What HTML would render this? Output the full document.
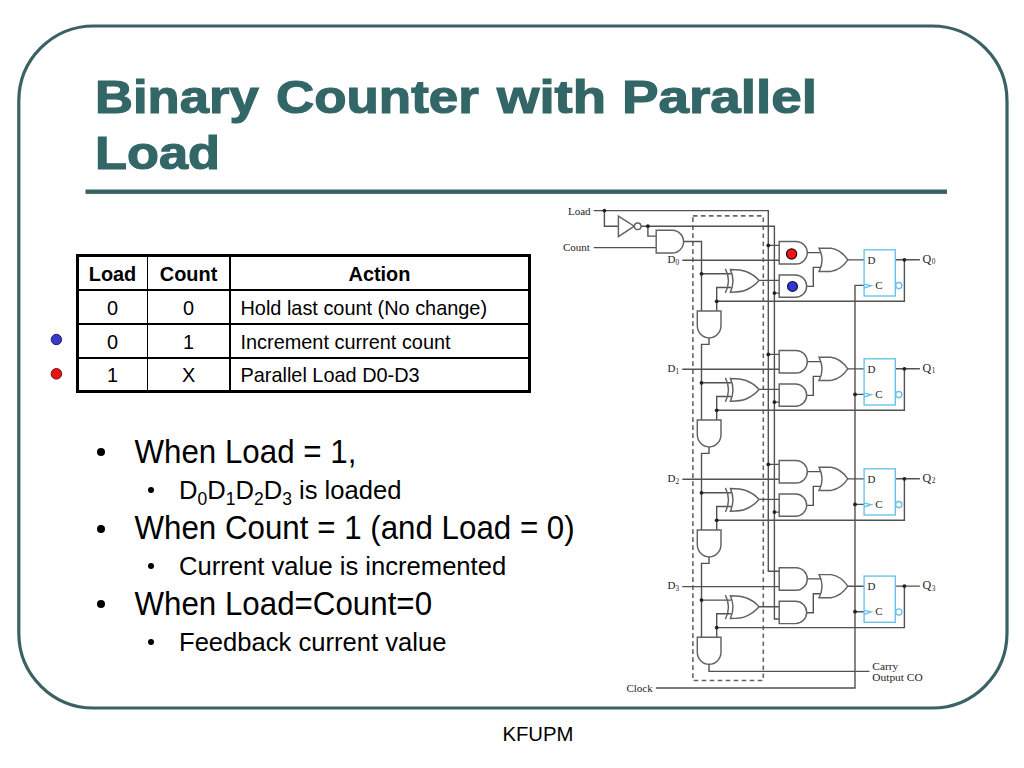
<!DOCTYPE html>
<html><head><meta charset="utf-8">
<style>
html,body{margin:0;padding:0;}
body{width:1024px;height:768px;overflow:hidden;background:#fff;position:relative;font-family:"Liberation Sans",sans-serif;color:#000;}
.abs{position:absolute;white-space:nowrap;}
.tw{position:absolute;white-space:nowrap;transform-origin:0 0;color:#336666;font-weight:bold;font-size:46px;line-height:normal;-webkit-text-stroke:1.2px #336666;}
#tbl{position:absolute;left:76px;top:254.3px;width:448.5px;height:132.7px;border:3px solid #000;}
.vl{position:absolute;top:0;width:1.8px;height:100%;background:#000;}
.hl{position:absolute;left:0;height:1.8px;width:100%;background:#000;}
.cell{position:absolute;font-size:19.9px;line-height:20px;white-space:nowrap;transform:scaleY(1.038);transform-origin:0 16.6px;}
.b{font-weight:bold;}
.bul{position:absolute;white-space:nowrap;}
.l1{font-size:31.3px;line-height:normal;transform:scaleY(1.038);transform-origin:0 28.33px;}
.l2{font-size:25.6px;line-height:normal;transform:scaleY(1.038);transform-origin:0 23.17px;}
sub{font-size:17.5px;vertical-align:-5.7px;line-height:0;}
.dot{position:absolute;border-radius:50%;background:#000;}
svg{position:absolute;left:0;top:0;}
.s{font-family:"Liberation Serif",serif;font-size:11px;fill:#252525;}
.sub{font-size:7.3px;}
</style></head><body>
<svg width="1024" height="768" viewBox="0 0 1024 768">
<rect x="18.8" y="26" width="988.2" height="682" rx="75" ry="75" fill="none" stroke="#3a6264" stroke-width="3.2"/>
<rect x="85.5" y="189.5" width="861.5" height="4.4" fill="#386262"/>
<circle cx="56.4" cy="339.5" r="5.2" fill="#3a3ac6" stroke="#1a1a6a" stroke-width="1"/>
<circle cx="56.4" cy="373.8" r="5.3" fill="#e81414" stroke="#701010" stroke-width="1"/>
<rect x="692.9" y="215.9" width="70.4" height="464.6" fill="none" stroke="#666" stroke-width="1.6" stroke-dasharray="4.6 3.4"/>
<path d="M593.7 210.6H768.3V571.2H779 M604.4 210.6V226.2H618.4 M641 226.2H774.4V619H779 M647.9 226.2V236.1H656.2 M593.7 247.6H656.2 M683.5 241.5H701.5V311 M655.9 688H855V285.4H864 M709 664.3V671.4H869.5 M682.3 260.3H779 M768.3 245.4H779.2 M774.4 293.1H779 M701.5 273.8H731 M731 287.5H716.7V311 M716.7 301.3H904.4V259.8 M759 280.4H779 M807.2 252.6H821 M806.6 286.4H813.3V267.4H821 M847.8 259.9H864 M895.3 259.8H919.9 M682.3 369.3H779 M768.3 354.4H779.2 M774.4 402.1H779 M701.5 382.8H731 M709 338V344.4H701.5V420 M731 396.5H716.7V420 M716.7 410.3H904.4V368.8 M759 389.4H779 M807.2 361.6H821 M806.6 395.4H813.3V376.4H821 M847.8 368.9H864 M855 394.4H864 M895.3 368.8H919.9 M682.3 479.3H779 M768.3 464.4H779.2 M774.4 512.1H779 M701.5 492.8H731 M709 447V453.4H701.5V530 M731 506.5H716.7V530 M716.7 520.3H904.4V478.8 M759 499.4H779 M807.2 471.6H821 M806.6 505.4H813.3V486.4H821 M847.8 478.9H864 M855 504.4H864 M895.3 478.8H919.9 M682.3 586.6H779 M701.5 600.1H731 M709 557V563.4H701.5V637.3 M731 613.8H716.7V637.3 M716.7 627.6H904.4V586.1 M759 606.7H779 M807.2 578.9H821 M806.6 612.7H813.3V593.7H821 M847.8 586.2H864 M855 611.7H864 M895.3 586.1H919.9" fill="none" stroke="#525252" stroke-width="1.4"/>
<g fill="#fff" stroke="#626262" stroke-width="1.45"><path d="M618.4 216.1L634.2 226.2L618.4 236.6Z"/><path d="M641 226.2A3.3 3.3 0 1 1 634.4 226.2A3.3 3.3 0 1 1 641 226.2Z"/><path d="M656.2 230.3H672.2A11.35 11.35 0 0 1 672.2 253H656.2Z"/><path d="M779.2 241.4H796A11.3 11.3 0 0 1 796 264H779.2Z"/><path d="M779.2 275H795.5A11.15 11.15 0 0 1 795.5 297.3H779.2Z"/><path d="M697.3 311H721V325.6A11.85 12.4 0 0 1 697.3 325.6Z"/><path d="M730.4 269.4Q735.5 280.8 730.4 292.2Q741 292.2 746 290Q754 286.5 759 280.5Q754 274.5 746 271.5Q741 269.4 730.4 269.4Z"/><path d="M819.1 248.3Q825 259.9 819.1 271.4H831Q841 270 847.8 259.9Q841 249.7 831 248.3Z"/><path d="M779.2 350.4H796A11.3 11.3 0 0 1 796 373H779.2Z"/><path d="M779.2 384H795.5A11.15 11.15 0 0 1 795.5 406.3H779.2Z"/><path d="M697.3 420H721V434.6A11.85 12.4 0 0 1 697.3 434.6Z"/><path d="M730.4 378.4Q735.5 389.8 730.4 401.2Q741 401.2 746 399Q754 395.5 759 389.5Q754 383.5 746 380.5Q741 378.4 730.4 378.4Z"/><path d="M819.1 357.3Q825 368.9 819.1 380.4H831Q841 379 847.8 368.9Q841 358.7 831 357.3Z"/><path d="M779.2 460.4H796A11.3 11.3 0 0 1 796 483H779.2Z"/><path d="M779.2 494H795.5A11.15 11.15 0 0 1 795.5 516.3H779.2Z"/><path d="M697.3 530H721V544.6A11.85 12.4 0 0 1 697.3 544.6Z"/><path d="M730.4 488.4Q735.5 499.8 730.4 511.2Q741 511.2 746 509Q754 505.5 759 499.5Q754 493.5 746 490.5Q741 488.4 730.4 488.4Z"/><path d="M819.1 467.3Q825 478.9 819.1 490.4H831Q841 489 847.8 478.9Q841 468.7 831 467.3Z"/><path d="M779.2 567.7H796A11.3 11.3 0 0 1 796 590.3H779.2Z"/><path d="M779.2 601.3H795.5A11.15 11.15 0 0 1 795.5 623.6H779.2Z"/><path d="M697.3 637.3H721V651.9A11.85 12.4 0 0 1 697.3 651.9Z"/><path d="M730.4 595.7Q735.5 607.1 730.4 618.5Q741 618.5 746 616.3Q754 612.8 759 606.8Q754 600.8 746 597.8Q741 595.7 730.4 595.7Z"/><path d="M819.1 574.6Q825 586.2 819.1 597.7H831Q841 596.3 847.8 586.2Q841 576 831 574.6Z"/></g>
<path d="M725.4 268.8Q731.5 280.8 725.4 292.8 M725.4 377.8Q731.5 389.8 725.4 401.8 M725.4 487.8Q731.5 499.8 725.4 511.8 M725.4 595.1Q731.5 607.1 725.4 619.1" fill="none" stroke="#626262" stroke-width="1.45"/>
<g fill="none" stroke="#66c2ec" stroke-width="1.35"><rect x="864.1" y="249.8" width="31.2" height="46.2"/><path d="M864 284.1L871.1 285.6L864 288" /><circle cx="898.8" cy="285.6" r="3.1"/><rect x="864.1" y="358.8" width="31.2" height="46.2"/><path d="M864 393.1L871.1 394.6L864 397" /><circle cx="898.8" cy="394.6" r="3.1"/><rect x="864.1" y="468.8" width="31.2" height="46.2"/><path d="M864 503.1L871.1 504.6L864 507" /><circle cx="898.8" cy="504.6" r="3.1"/><rect x="864.1" y="576.1" width="31.2" height="46.2"/><path d="M864 610.4L871.1 611.9L864 614.3" /><circle cx="898.8" cy="611.9" r="3.1"/></g>
<g fill="#222"><circle cx="604.4" cy="210.6" r="1.9"/><circle cx="647.9" cy="226.2" r="1.9"/><circle cx="768.3" cy="245.4" r="1.9"/><circle cx="774.4" cy="293.1" r="1.9"/><circle cx="701.5" cy="273.8" r="1.9"/><circle cx="716.7" cy="301.3" r="1.9"/><circle cx="904.4" cy="259.8" r="1.9"/><circle cx="768.3" cy="354.4" r="1.9"/><circle cx="774.4" cy="402.1" r="1.9"/><circle cx="701.5" cy="382.8" r="1.9"/><circle cx="716.7" cy="410.3" r="1.9"/><circle cx="855" cy="394.4" r="1.9"/><circle cx="904.4" cy="368.8" r="1.9"/><circle cx="768.3" cy="464.4" r="1.9"/><circle cx="774.4" cy="512.1" r="1.9"/><circle cx="701.5" cy="492.8" r="1.9"/><circle cx="716.7" cy="520.3" r="1.9"/><circle cx="855" cy="504.4" r="1.9"/><circle cx="904.4" cy="478.8" r="1.9"/><circle cx="701.5" cy="600.1" r="1.9"/><circle cx="716.7" cy="627.6" r="1.9"/><circle cx="855" cy="611.7" r="1.9"/><circle cx="904.4" cy="586.1" r="1.9"/></g>
<circle cx="791.6" cy="254" r="5.1" fill="#f01616" stroke="#2a0000" stroke-width="1.2"/>
<circle cx="792.5" cy="286.4" r="4.9" fill="#3434dc" stroke="#10103a" stroke-width="1.2"/>
<g><text x="568" y="214.6" class="s">Load</text><text x="562.9" y="251" class="s">Count</text><text x="626.4" y="691.7" class="s">Clock</text><text x="872.3" y="669.5" class="s" style="font-size:11.4px">Carry</text><text x="872.3" y="680.6" class="s" style="font-size:11.4px">Output CO</text><text x="867.4" y="263.6" class="s">D</text><text x="875.3" y="289" class="s">C</text><text x="667.6" y="263" class="s">D<tspan class="sub" dy="1.8">0</tspan></text><text x="922.4" y="262.8" class="s" style="font-size:12px">Q<tspan class="sub" dx="0.7" dy="1.6">0</tspan></text><text x="867.4" y="372.6" class="s">D</text><text x="875.3" y="398" class="s">C</text><text x="667.6" y="372" class="s">D<tspan class="sub" dy="1.8">1</tspan></text><text x="922.4" y="371.8" class="s" style="font-size:12px">Q<tspan class="sub" dx="0.7" dy="1.6">1</tspan></text><text x="867.4" y="482.6" class="s">D</text><text x="875.3" y="508" class="s">C</text><text x="667.6" y="482" class="s">D<tspan class="sub" dy="1.8">2</tspan></text><text x="922.4" y="481.8" class="s" style="font-size:12px">Q<tspan class="sub" dx="0.7" dy="1.6">2</tspan></text><text x="867.4" y="589.9" class="s">D</text><text x="875.3" y="615.3" class="s">C</text><text x="667.6" y="589.3" class="s">D<tspan class="sub" dy="1.8">3</tspan></text><text x="922.4" y="589.1" class="s" style="font-size:12px">Q<tspan class="sub" dx="0.7" dy="1.6">3</tspan></text></g>
</svg>
<div class="tw" style="left:95.07px;top:69.9px;transform:scaleX(1.1429)">Binary</div>
<div class="tw" style="left:275.5px;top:69.9px;transform:scaleX(1.15)">Counter</div>
<div class="tw" style="left:497.2px;top:69.9px;transform:scaleX(1.185)">with</div>
<div class="tw" style="left:621.9px;top:69.9px;transform:scaleX(1.191)">Parallel</div>
<div class="tw" style="left:95.4px;top:126.3px;transform:scaleX(1.1375)">Load</div>
<div id="tbl">
 <div class="vl" style="left:67.7px"></div>
 <div class="vl" style="left:150.4px"></div>
 <div class="hl" style="top:31.9px"></div>
 <div class="hl" style="top:66px"></div>
 <div class="hl" style="top:99.5px"></div>
</div>
<div class="cell b" style="left:78px;width:69px;text-align:center;top:263.6px">Load</div>
<div class="cell b" style="left:147.1px;width:83px;text-align:center;top:263.6px">Count</div>
<div class="cell b" style="left:231px;width:297px;text-align:center;top:263.6px">Action</div>
<div class="cell" style="left:78px;width:69px;text-align:center;top:297.8px">0</div>
<div class="cell" style="left:147.1px;width:83px;text-align:center;top:297.8px">0</div>
<div class="cell" style="left:240.5px;top:297.8px">Hold last count (No change)</div>
<div class="cell" style="left:78px;width:69px;text-align:center;top:331.6px">0</div>
<div class="cell" style="left:147.1px;width:83px;text-align:center;top:331.6px">1</div>
<div class="cell" style="left:240.5px;top:331.6px">Increment current count</div>
<div class="cell" style="left:78px;width:69px;text-align:center;top:365px">1</div>
<div class="cell" style="left:147.1px;width:83px;text-align:center;top:365px">X</div>
<div class="cell" style="left:240.5px;top:365px">Parallel Load D0-D3</div>

<div class="dot" style="left:97.1px;top:447.9px;width:8px;height:8px"></div>
<div class="bul l1" style="left:134.5px;top:434.97px">When Load = 1,</div>
<div class="dot" style="left:148.0px;top:486.8px;width:6.4px;height:6.4px"></div>
<div class="bul l2" style="left:179px;top:475.63px">D<sub>0</sub>D<sub>1</sub>D<sub>2</sub>D<sub>3</sub> is loaded</div>
<div class="dot" style="left:97.1px;top:524.6px;width:8px;height:8px"></div>
<div class="bul l1" style="left:134.5px;top:510.97px">When Count = 1 (and Load = 0)</div>
<div class="dot" style="left:148.0px;top:562.9px;width:6.4px;height:6.4px"></div>
<div class="bul l2" style="left:179px;top:551.93px">Current value is incremented</div>
<div class="dot" style="left:97.1px;top:600.2px;width:8px;height:8px"></div>
<div class="bul l1" style="left:134.5px;top:586.77px">When Load=Count=0</div>
<div class="dot" style="left:148.0px;top:638.7px;width:6.4px;height:6.4px"></div>
<div class="bul l2" style="left:179px;top:627.53px">Feedback current value</div>

<div class="abs" style="left:502.4px;top:723.2px;font-size:20.3px;line-height:normal;transform:scaleY(1.038);transform-origin:0 18.37px">KFUPM</div>
</body></html>
